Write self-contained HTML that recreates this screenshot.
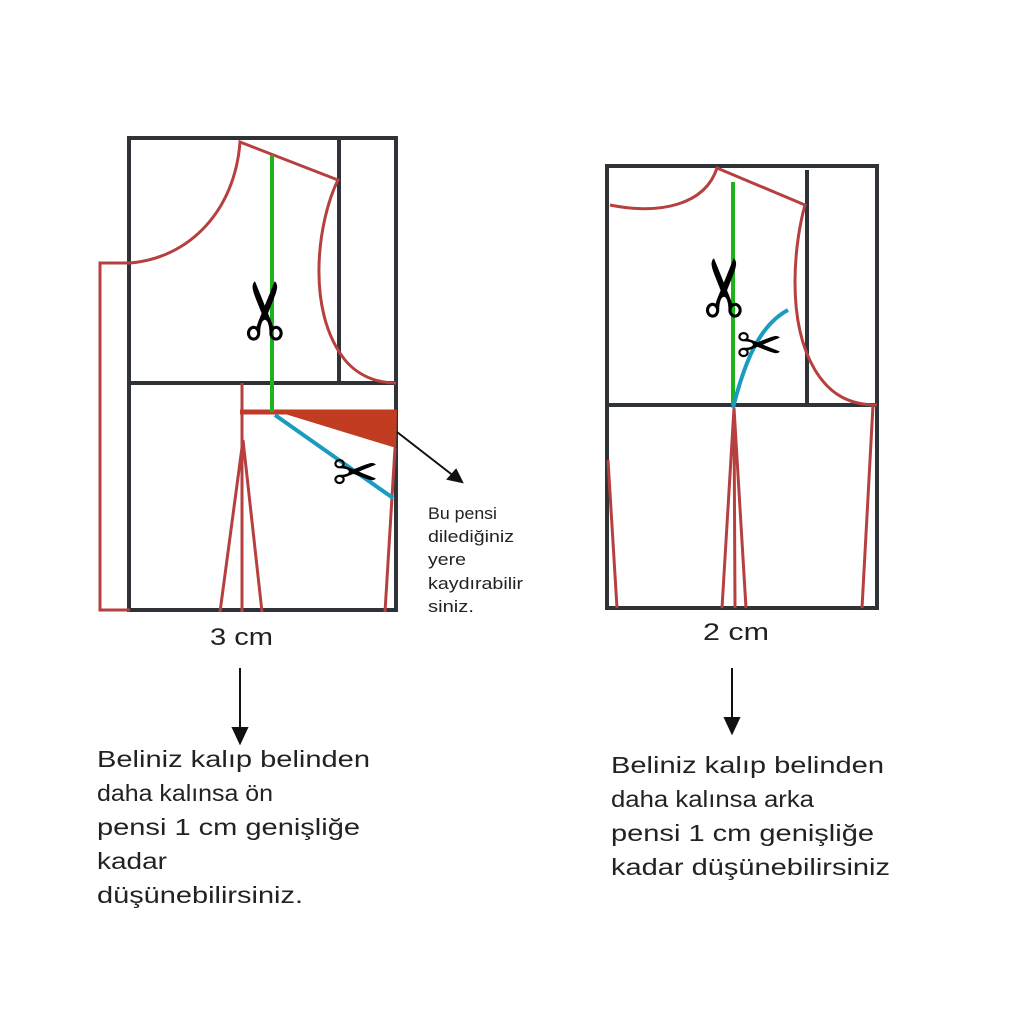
<!DOCTYPE html>
<html><head><style>
body{margin:0;background:#fff;}
svg{display:block}
text{font-family:"Liberation Sans",sans-serif;fill:#222}
</style></head><body>
<svg width="1015" height="1016" viewBox="0 0 1015 1016">
<g fill="none" stroke="#2f3338" stroke-width="4">
<rect x="129" y="138" width="267" height="472"/>
<line x1="339" y1="138" x2="339" y2="383"/>
<line x1="127" y1="383" x2="397" y2="383"/>
<rect x="607" y="166" width="270" height="442"/>
<line x1="807" y1="170" x2="807" y2="405"/>
<line x1="607" y1="405" x2="877" y2="405"/>
</g>
<g fill="none" stroke="#b5403f" stroke-width="3">
<path d="M130 610 L100 610 L100 263 L130 263"/>
<path d="M130 263 C190 258 235 210 240 142 L338 180 C318 220 305 310 345 360 C360 378 380 383 396 383"/>
<line x1="242" y1="383" x2="242" y2="612"/>
<path d="M220 612 L243 440 L262 612"/>
<path d="M395 448 L385 612"/>
<path d="M610 205 C660 215 705 205 717 168 L805 205 C795 240 785 320 815 370 C830 395 850 405 877 405"/>
<path d="M722 608 L734 408 L746 608 M734 408 L735 608"/>
<path d="M608 460 L617 608"/>
<path d="M873 405 L862 608"/>
</g>
<line x1="240" y1="412" x2="396" y2="412" stroke="#c0392b" stroke-width="5"/>
<polygon points="272,410 397,410 396,448" fill="#c23c22"/>
<line x1="272" y1="155" x2="272" y2="412" stroke="#1db31d" stroke-width="4"/>
<line x1="275" y1="415" x2="393" y2="498" stroke="#1a9bc0" stroke-width="4"/>
<line x1="733" y1="182" x2="733" y2="405" stroke="#1db31d" stroke-width="4"/>
<path d="M733 408 C745 360 760 325 788 310" fill="none" stroke="#1a9bc0" stroke-width="4"/>
<g style="fill:#000">
<text x="234" y="332" font-size="80" style="fill:#000" transform="rotate(-90 270 308)">✂</text>
<text x="332" y="492" font-size="56" style="fill:#000">✂</text>
<text x="694" y="308" font-size="80" style="fill:#000" transform="rotate(-90 730 285)">✂</text>
<text x="736" y="365" font-size="56" style="fill:#000">✂</text>
</g>
<g stroke="#111" stroke-width="2" fill="#111">
<line x1="397" y1="432" x2="455" y2="477"/>
<polygon points="462,482 448,479 456,470"/>
<line x1="240" y1="668" x2="240" y2="730"/>
<polygon points="233,728 247,728 240,743"/>
<line x1="732" y1="668" x2="732" y2="720"/>
<polygon points="725,718 739,718 732,733"/>
</g>
<g lengthAdjust="spacingAndGlyphs">
<text x="210" y="645" font-size="24" textLength="63" lengthAdjust="spacingAndGlyphs">3 cm</text>
<text x="703" y="640" font-size="24" textLength="66" lengthAdjust="spacingAndGlyphs">2 cm</text>
<g font-size="17">
<text x="428" y="519" textLength="69" lengthAdjust="spacingAndGlyphs">Bu pensi</text>
<text x="428" y="542" textLength="86" lengthAdjust="spacingAndGlyphs">dilediğiniz</text>
<text x="428" y="565" textLength="38" lengthAdjust="spacingAndGlyphs">yere</text>
<text x="428" y="589" textLength="95" lengthAdjust="spacingAndGlyphs">kaydırabilir</text>
<text x="428" y="612" textLength="46" lengthAdjust="spacingAndGlyphs">siniz.</text>
</g>
<g font-size="23">
<text x="97" y="767" textLength="273" lengthAdjust="spacingAndGlyphs">Beliniz kalıp belinden</text>
<text x="97" y="801" textLength="176" lengthAdjust="spacingAndGlyphs">daha kalınsa ön</text>
<text x="97" y="835" textLength="263" lengthAdjust="spacingAndGlyphs">pensi 1 cm genişliğe</text>
<text x="97" y="869" textLength="70" lengthAdjust="spacingAndGlyphs">kadar</text>
<text x="97" y="903" textLength="206" lengthAdjust="spacingAndGlyphs">düşünebilirsiniz.</text>
<text x="611" y="773" textLength="273" lengthAdjust="spacingAndGlyphs">Beliniz kalıp belinden</text>
<text x="611" y="807" textLength="203" lengthAdjust="spacingAndGlyphs">daha kalınsa arka</text>
<text x="611" y="841" textLength="263" lengthAdjust="spacingAndGlyphs">pensi 1 cm genişliğe</text>
<text x="611" y="875" textLength="279" lengthAdjust="spacingAndGlyphs">kadar düşünebilirsiniz</text>
</g>
</g>
</svg>
</body></html>
